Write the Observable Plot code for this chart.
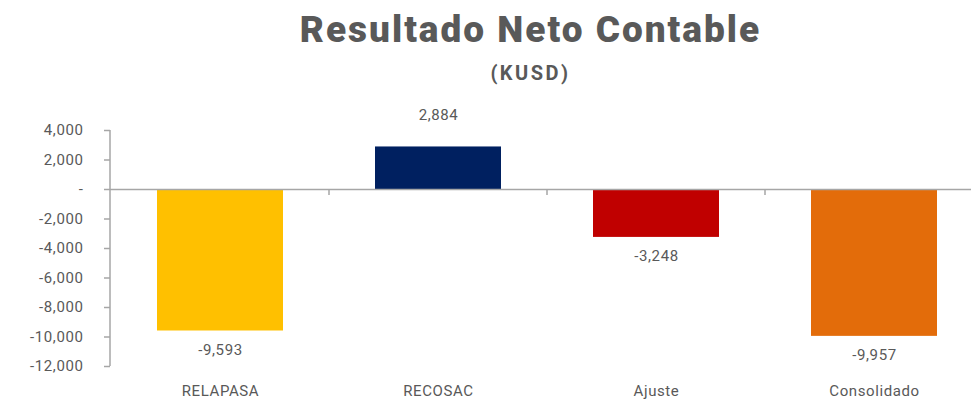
<!DOCTYPE html>
<html>
<head>
<meta charset="utf-8">
<script src="https://cdn.jsdelivr.net/npm/d3@7"></script>
<script src="https://cdn.jsdelivr.net/npm/@observablehq/plot@0.6"></script>
<style>
  html, body { margin: 0; padding: 0; background: #fff; }
  #wrap { width: 971px; }
  .title { height: 58px; line-height: 60px; text-align: center; padding-left: 90px; box-sizing: border-box; font-family: Roboto, sans-serif; font-weight: 900; font-size: 37px; color: #595959; letter-spacing: 2px; }
  .subtitle { height: 37px; line-height: 30px; text-align: center; padding-left: 90px; box-sizing: border-box; font-family: Roboto, sans-serif; font-weight: 700; font-size: 20px; color: #595959; letter-spacing: 2.5px; }
  svg { display: block; }
</style>
</head>
<body>
<div id="wrap">
  <div class="title">Resultado Neto Contable</div>
  <div class="subtitle">(KUSD)</div>
  <div id="chart"></div>
</div>
<script>
const categories = ["RELAPASA", "RECOSAC", "Ajuste", "Consolidado"];
const values = [-9593, 2884, -3248, -9957];
const colors = ["#FFC000", "#002060", "#C00000", "#E36C0A"];
const yTicks = [4000, 2000, 0, -2000, -4000, -6000, -8000, -10000, -12000];

const data = categories.map((c, i) => ({cat: c, value: values[i], color: colors[i]}));
const fmt = d => d === 0 ? "-" : d3.format(",")(d).replace("\u2212", "-");
const textColor = "#595959";
const axisColor = "#A6A6A6";
const font = "Roboto, sans-serif";

const frameMark = (index, scales, values, dims) => {
  const g = d3.create("svg:g");
  const x0 = dims.marginLeft;
  g.append("line")
    .attr("x1", x0).attr("x2", x0)
    .attr("y1", scales.y(yTicks[0])).attr("y2", scales.y(yTicks[yTicks.length - 1]))
    .attr("stroke", axisColor).attr("stroke-width", 1.5);
  const xs = categories.map(c => scales.x(c));
  const step = xs[1] - xs[0];
  const bw = scales.x.bandwidth ? scales.x.bandwidth() : 0;
  for (let i = 1; i < categories.length; i++) {
    const bx = xs[i] + bw / 2 - step / 2;
    g.append("line")
      .attr("x1", bx).attr("x2", bx)
      .attr("y1", scales.y(0)).attr("y2", scales.y(0) + 6)
      .attr("stroke", axisColor).attr("stroke-width", 1.5);
  }
  return g.node();
};

const chart = Plot.plot({
  width: 971,
  height: 312,
  marginLeft: 110,
  marginRight: 0,
  marginTop: 35,
  marginBottom: 41,
  style: {fontFamily: font, fontSize: "15px", color: textColor, background: "white", letterSpacing: "0.6px"},
  x: {domain: categories, range: [111, 983], paddingInner: 0.42, paddingOuter: 0.21},
  y: {domain: [-12000, 4000]},
  marks: [
    Plot.barY(data, {x: "cat", y: "value", fill: "color"}),
    Plot.ruleY([0], {stroke: axisColor, strokeWidth: 1.5}),
    frameMark,
    Plot.axisY({ticks: yTicks, tickFormat: fmt, tickSize: 6, tickPadding: 21, stroke: axisColor, strokeWidth: 1.5, fill: textColor, fontSize: 15, label: null}),
    Plot.axisX({tickSize: 0, tickPadding: 19, fill: textColor, fontSize: 15, label: null}),
    Plot.text(data.filter(d => d.value < 0), {x: "cat", y: "value", text: d => fmt(d.value), dy: 19, fill: textColor, fontSize: 15}),
    Plot.text(data.filter(d => d.value >= 0), {x: "cat", y: "value", text: d => fmt(d.value), dy: -32, fill: textColor, fontSize: 15})
  ]
});
document.getElementById("chart").appendChild(chart);
</script>
</body>
</html>
